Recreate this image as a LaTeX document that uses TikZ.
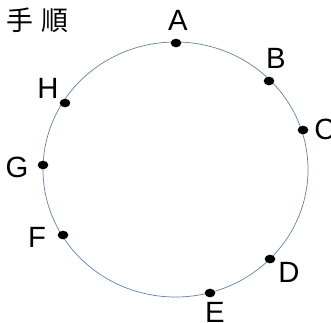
\documentclass[tikz,border=0pt]{standalone}
\usepackage{fontspec}
\setmainfont{Liberation Sans}
\newfontfamily\cjk{Noto Sans CJK JP}
\usetikzlibrary{shapes.geometric}
\begin{document}
\begin{tikzpicture}[
  x=0.03cm, y=-0.03cm,
  dot/.style={ellipse, fill=black, inner sep=0pt, minimum width=3.2mm, minimum height=2.6mm},
  lab/.style={font=\fontsize{25}{25}\selectfont, inner sep=0pt}
]
  \useasboundingbox (0,0) rectangle (331,322);
  % Title
  \node[font=\cjk\fontsize{23}{23}\selectfont, anchor=east, inner sep=0pt] (title) at (69, 20) {の\hspace{0.3em}手\hspace{0.3em}順};

  % Circle
  \draw[draw={rgb,255:red,95;green,130;blue,170}, line width=0.6pt] (175.5,169.5) ellipse [x radius=132.5, y radius=127.5];

  % Points on the circle
  \node[dot] (a) at (176, 43) {};
  \node[dot] (b) at (269, 81) {};
  \node[dot] (c) at (303, 130) {};
  \node[dot] (d) at (270, 259) {};
  \node[dot] (e) at (210, 293) {};
  \node[dot] (f) at (63, 235) {};
  \node[dot] (g) at (43, 165) {};
  \node[dot] (h) at (65, 103) {};

  % Labels
  \node[lab] (la) at (178, 20) {A};
  \node[lab] (lb) at (276, 58) {B};
  \node[lab] (lc) at (325, 129) {C};
  \node[lab] (ld) at (289, 272) {D};
  \node[lab] (le) at (215, 312) {E};
  \node[lab] (lf) at (37, 237) {F};
  \node[lab] (lg) at (17, 167) {G};
  \node[lab] (lh) at (48, 88) {H};
\end{tikzpicture}
\end{document}
